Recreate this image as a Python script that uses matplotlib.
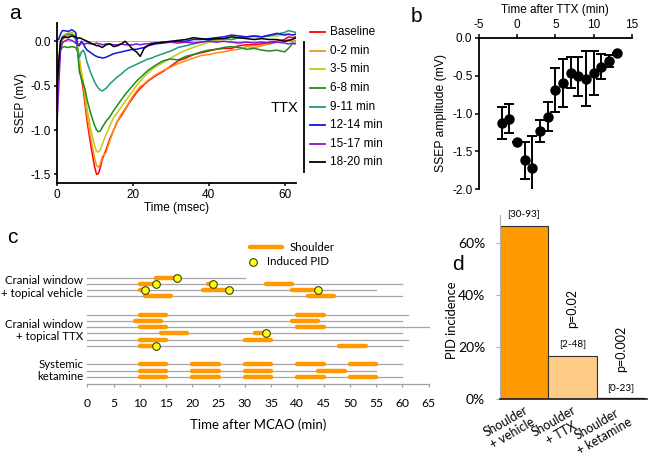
import matplotlib
matplotlib.use('Agg')
import matplotlib.pyplot as plt
from matplotlib.lines import Line2D
from matplotlib.ticker import FormatStrFormatter

plt.rcParams['axes.unicode_minus'] = False

ARIAL = 'Liberation Sans'
CAL = 'Lato'

# ---------------- data: panel a (SSEP traces) ----------------
ssep_time = [0, 0.5, 1, 1.5, 2, 3, 4, 5, 5.5, 6, 6.5, 7, 7.5, 8, 9, 10, 10.5, 11, 11.5, 12,
             13, 14, 15, 16, 17, 18, 19, 20, 21, 22, 23, 24, 25, 26, 28, 30, 32, 34, 36, 38,
             40, 42, 44, 46, 48, 50, 52, 54, 56, 58, 60, 61, 62, 63]
ssep_labels = ['Baseline', '0-2 min', '3-5 min', '6-8 min', '9-11 min', '12-14 min', '15-17 min', '18-20 min']
ssep_colors = ['#FF0000', '#FF8C1A', '#C8C814', '#1E8C1E', '#1E9B78', '#1414E6', '#8C14C8', '#000000']
baseline = [-0.62, -0.3, -0.05, 0.02, 0.04, 0.05, 0.07, 0.03, -0.08, -0.28, -0.42, -0.55, -0.72, -0.9, -1.18, -1.42, -1.5, -1.49, -1.42, -1.33,
            -1.22, -1.1, -1.0, -0.9, -0.84, -0.77, -0.7, -0.64, -0.58, -0.53, -0.49, -0.45, -0.42, -0.39, -0.34, -0.28, -0.22, -0.19, -0.15, -0.13,
            -0.11, -0.09, -0.08, -0.08, -0.05, -0.04, -0.04, -0.03, -0.01, 0.0, 0.02, 0.05, 0.04, 0.05]
min_0_2 = [-0.6, -0.28, -0.04, 0.03, 0.05, 0.06, 0.08, 0.04, -0.05, -0.22, -0.38, -0.5, -0.66, -0.84, -1.1, -1.32, -1.4, -1.42, -1.38, -1.3,
           -1.25, -1.12, -1.0, -0.9, -0.82, -0.76, -0.69, -0.62, -0.56, -0.51, -0.48, -0.44, -0.41, -0.38, -0.33, -0.29, -0.25, -0.22, -0.19, -0.16,
           -0.15, -0.13, -0.12, -0.1, -0.09, -0.06, -0.07, -0.05, -0.03, -0.01, 0.0, 0.02, 0.0, 0.01]
min_3_5 = [-0.6, -0.28, -0.03, 0.05, 0.08, 0.09, 0.1, 0.06, -0.05, -0.2, -0.34, -0.45, -0.6, -0.76, -1.0, -1.18, -1.24, -1.25, -1.22, -1.16,
           -1.05, -0.95, -0.86, -0.8, -0.74, -0.68, -0.62, -0.56, -0.5, -0.45, -0.4, -0.36, -0.32, -0.29, -0.24, -0.19, -0.14, -0.1, -0.07, -0.04,
           -0.01, 0.01, 0.02, 0.02, 0.04, 0.05, 0.05, 0.05, 0.06, 0.06, 0.08, 0.08, 0.07, 0.08]
min_6_8 = [-0.55, -0.3, -0.1, -0.07, -0.06, -0.07, -0.06, -0.07, -0.12, -0.35, -0.42, -0.48, -0.55, -0.66, -0.82, -0.95, -1.0, -1.02, -1.01, -0.97,
           -0.9, -0.85, -0.78, -0.72, -0.66, -0.6, -0.55, -0.5, -0.45, -0.41, -0.37, -0.33, -0.3, -0.27, -0.22, -0.2, -0.21, -0.17, -0.15, -0.12,
           -0.1, -0.09, -0.07, -0.06, -0.07, -0.09, -0.08, -0.1, -0.11, -0.1, -0.12, -0.08, -0.03, -0.02]
min_9_11 = [-0.6, -0.28, -0.02, 0.05, 0.06, 0.08, 0.08, 0.02, -0.1, -0.18, -0.12, -0.1, -0.15, -0.24, -0.36, -0.46, -0.5, -0.53, -0.55, -0.56,
            -0.53, -0.48, -0.44, -0.4, -0.37, -0.33, -0.3, -0.28, -0.26, -0.24, -0.22, -0.2, -0.19, -0.17, -0.14, -0.11, -0.07, -0.05, -0.03, -0.01,
            0.01, 0.02, 0.03, 0.02, 0.04, 0.05, 0.06, 0.05, 0.06, 0.08, 0.1, 0.12, 0.11, 0.1]
min_12_14 = [0.03, 0.02, 0.08, 0.12, 0.12, 0.11, 0.13, 0.1, -0.04, -0.05, 0.0, -0.03, -0.07, -0.1, -0.13, -0.16, -0.17, -0.18, -0.18, -0.19,
             -0.18, -0.16, -0.14, -0.13, -0.12, -0.11, -0.1, -0.09, -0.09, -0.08, -0.07, -0.05, -0.04, -0.03, -0.02, -0.01, 0.0, 0.0, 0.02, 0.02,
             0.03, 0.04, 0.05, 0.07, 0.06, 0.05, 0.06, 0.05, 0.07, 0.09, 0.07, 0.08, 0.07, 0.08]
min_15_17 = [-1.0, -0.55, -0.1, -0.02, 0.0, 0.02, 0.01, -0.02, -0.03, -0.03, -0.02, -0.03, -0.03, -0.02, -0.03, -0.03, -0.02, -0.03, -0.03, -0.04,
             -0.03, -0.03, -0.04, -0.04, -0.03, -0.04, -0.04, -0.04, -0.03, -0.04, -0.03, -0.03, -0.02, -0.02, -0.01, -0.01, -0.02, -0.01, -0.02, -0.01,
             0.0, -0.01, 0.0, -0.01, -0.02, -0.01, -0.02, -0.01, -0.02, -0.01, -0.02, -0.03, -0.02, -0.03]
min_18_20 = [-0.6, -0.25, 0.0, 0.04, 0.05, 0.04, 0.06, 0.05, 0.03, 0.04, 0.03, 0.02, 0.01, 0.0, -0.02, -0.04, -0.05, -0.05, -0.06, -0.07,
             -0.04, -0.03, -0.06, -0.05, -0.03, 0.0, -0.04, -0.09, -0.12, -0.17, -0.08, -0.05, -0.03, -0.02, -0.01, 0.0, 0.01, 0.02, 0.04, 0.03,
             0.02, 0.03, 0.03, 0.05, 0.04, 0.03, 0.02, 0.03, 0.02, 0.02, 0.0, 0.01, 0.02, 0.04]
ssep_values = [baseline, min_0_2, min_3_5, min_6_8, min_9_11, min_12_14, min_15_17, min_18_20]

# ---------------- data: panel b ----------------
b_time = [-2, -1, 0, 1, 2, 3, 4, 5, 6, 7, 8, 9, 10, 11, 12, 13]
b_amp = [-1.13, -1.07, -1.37, -1.62, -1.72, -1.23, -1.04, -0.69, -0.60, -0.46, -0.51, -0.54, -0.47, -0.38, -0.31, -0.20]
b_sem = [0.21, 0.19, 0.0, 0.25, 0.42, 0.15, 0.19, 0.29, 0.32, 0.20, 0.26, 0.36, 0.29, 0.17, 0.08, 0.0]

# ---------------- data: panel c ----------------
c_groups = ['Cranial window\n+ topical vehicle', 'Cranial window\n+ topical TTX', 'Systemic\nketamine']
vehicle_end = [30, 60, 55, 60]
vehicle_shoulders = [[(13, 17)], [(10, 13), (23, 24), (34, 39)], [(10, 11), (22, 27), (39, 44)], [(11, 16), (42, 47)]]
vehicle_pids = [[17], [13, 24], [11, 27, 44], []]
ttx_end = [61, 60, 65, 60, 61, 60]
ttx_shoulders = [[(10, 15), (40, 45)], [(9, 14), (39, 44)], [(10, 15), (40, 45)], [(14, 19), (32, 34)], [(10, 15), (30, 35)], [(10, 13), (48, 53)]]
ttx_pids = [[], [], [], [34], [], [13]]
ket_end = [60, 55, 60]
ket_shoulders = [[(10, 15), (20, 25), (30, 35), (40, 45), (50, 55)],
                 [(10, 15), (20, 25), (30, 35), (44, 49)],
                 [(10, 15), (20, 25), (30, 35), (40, 45), (50, 55)]]
ket_pids = [[], [], []]
c_xticks = list(range(0, 70, 5))

# ---------------- data: panel d ----------------
d_labels = ['Shoulder\n+ vehicle', 'Shoulder\n+ TTX', 'Shoulder\n+ ketamine']
d_values = [66.7, 16.7, 0.0]
d_ci = ['[30-93]', '[2-48]', '[0-23]']
d_p = ['', 'p=0.02', 'p=0.002']
d_colors = ['#FF9900', '#FFCC88', '#FFCC88']

# ---------------- figure ----------------
W, H = 652, 459
fig = plt.figure(figsize=(W / 100, H / 100), dpi=100)


def fx(x):
    return x / W


def fy(y):
    return 1 - y / H


def axes_px(l, t, r, b):
    return fig.add_axes([l / W, 1 - b / H, (r - l) / W, (b - t) / H])


# ----- panel a -----
ax = axes_px(56.7, 23, 296, 183)
ax.axhline(0, color='#b4b4b4', lw=0.7, zorder=0)
for vals, col in zip(ssep_values, ssep_colors):
    ax.plot(ssep_time, vals, color=col, lw=1.1)
ax.set_xlim(0, 63)
ax.set_ylim(-1.597, 0.206)
ax.set_xticks([0, 20, 40, 60])
ax.set_yticks([0, -0.5, -1.0, -1.5])
ax.yaxis.set_major_formatter(FormatStrFormatter('%.1f'))
for s in ['top', 'right']:
    ax.spines[s].set_visible(False)
for s in ['left', 'bottom']:
    ax.spines[s].set_linewidth(1.3)
ax.tick_params(length=2.5, width=1.1, pad=1.5, labelsize=8.5)
for t in ax.get_xticklabels() + ax.get_yticklabels():
    t.set_fontfamily(ARIAL)
ax.set_xlabel('Time (msec)', fontsize=8.5, fontfamily=ARIAL, labelpad=1)
ax.set_ylabel('SSEP (mV)', fontsize=8.5, fontfamily=ARIAL, labelpad=3)

for i, (lab, col) in enumerate(zip(ssep_labels, ssep_colors)):
    yy = 32.3 + i * 18.57
    fig.add_artist(Line2D([fx(310), fx(325)], [fy(yy), fy(yy)], color=col, lw=1.3))
    fig.text(fx(330), fy(yy), lab, ha='left', va='center', fontsize=8.5, fontfamily=ARIAL)
fig.add_artist(Line2D([fx(304), fx(304)], [fy(41.7), fy(171.7)], color='k', lw=1.3))
fig.text(fx(298), fy(108.3), 'TTX', ha='right', va='center', fontsize=10.5, fontfamily=ARIAL)

# ----- panel b -----
ax = axes_px(478.7, 37.7, 632, 189.3)
ax.errorbar(b_time, b_amp, yerr=b_sem, fmt='o', color='k', ms=6.5, capsize=3.5,
            elinewidth=1.4, capthick=1.4)
ax.set_xlim(-5, 15)
ax.set_ylim(-2, 0)
ax.set_xticks([-5, 0, 5, 10, 15])
ax.set_yticks([0, -0.5, -1.0, -1.5, -2.0])
ax.yaxis.set_major_formatter(FormatStrFormatter('%.1f'))
ax.xaxis.tick_top()
ax.xaxis.set_label_position('top')
for s in ['bottom', 'right']:
    ax.spines[s].set_visible(False)
for s in ['left', 'top']:
    ax.spines[s].set_linewidth(1.3)
ax.tick_params(length=3, width=1.1, pad=1.5, labelsize=8.5)
for t in ax.get_xticklabels() + ax.get_yticklabels():
    t.set_fontfamily(ARIAL)
ax.set_xlabel('Time after TTX (min)', fontsize=8.5, fontfamily=ARIAL, labelpad=5)
ax.set_ylabel('SSEP amplitude (mV)', fontsize=8.7, fontfamily=ARIAL, labelpad=4)

# ----- panel c -----
ax = axes_px(87.3, 240, 428.6, 384.3)
groups_data = [(vehicle_end, vehicle_shoulders, vehicle_pids),
               (ttx_end, ttx_shoulders, ttx_pids),
               (ket_end, ket_shoulders, ket_pids)]
row_y = []
y = 1.2
group_centers = []
for gi in range(len(groups_data) - 1, -1, -1):
    ends = groups_data[gi][0]
    ys = []
    for ri in range(len(ends)):
        ys.append(y + (len(ends) - 1 - ri))
    group_centers.insert(0, sum(ys) / len(ys))
    row_y.insert(0, ys)
    y += len(ends) + 2
for gi, (ends, shoulders, pids) in enumerate(groups_data):
    for ri in range(len(ends)):
        yy = row_y[gi][ri]
        ax.plot([0, ends[ri]], [yy, yy], color='#a6a6a6', lw=0.9, zorder=1, clip_on=False)
        for (s, e) in shoulders[ri]:
            ax.plot([s, e], [yy, yy], color='#FF9900', lw=3.2, solid_capstyle='round', zorder=2)
        for p in pids[ri]:
            ax.plot([p], [yy], 'o', ms=5.5, mfc='#FFFF1A', mec='#404000', mew=0.8, zorder=3)
    ax.text(-0.8, group_centers[gi], c_groups[gi], ha='right', va='center', fontsize=8.3,
            fontfamily=CAL, linespacing=1.15)
ax.set_xlim(0, 65)
ax.set_ylim(0, 23.27)
ax.set_xticks(c_xticks)
ax.set_yticks([])
for s in ['top', 'right', 'left']:
    ax.spines[s].set_visible(False)
ax.spines['bottom'].set_color('#a0a0a0')
ax.spines['bottom'].set_linewidth(0.9)
ax.tick_params(axis='x', length=2.5, width=0.9, color='#a0a0a0', pad=7.5, labelsize=8.7)
for t in ax.get_xticklabels():
    t.set_fontfamily(CAL)
ax.set_xlabel('Time after MCAO (min)', fontsize=9.5, fontfamily=CAL, labelpad=6.5)
# legend of panel c
ax.plot([31, 37], [22.1, 22.1], color='#FF9900', lw=3.2, solid_capstyle='round', clip_on=False)
ax.text(38.6, 22.1, 'Shoulder', ha='left', va='center', fontsize=8.3, fontfamily=CAL)
ax.plot([31.5], [19.8], 'o', ms=5.5, mfc='#FFFF1A', mec='#404000', mew=0.8, clip_on=False)
ax.text(34.2, 19.8, 'Induced PID', ha='left', va='center', fontsize=8.3, fontfamily=CAL)

# ----- panel d -----
ax = axes_px(499.7, 215, 646.7, 399.3)
xs = list(range(len(d_values)))
bars = ax.bar(xs, d_values, width=1.0, color=d_colors, edgecolor='#303030', linewidth=0.8)
bars[2].set_edgecolor('black')
bars[2].set_linewidth(1.6)
ax.set_xlim(-0.5, 2.537)
ax.set_ylim(0, 70.9)
for i, v in enumerate(d_values):
    ax.annotate(d_ci[i], (xs[i], v), xytext=(0, 8.5), textcoords='offset points',
                ha='center', va='center', fontsize=7.2, fontfamily=CAL)
    if d_p[i]:
        ax.annotate(d_p[i], (xs[i], v), xytext=(0, 20), textcoords='offset points',
                    ha='center', va='bottom', rotation=90, fontsize=9, fontfamily=CAL)
ax.set_yticks([0, 20, 40, 60])
ax.set_yticklabels(['0%', '20%', '40%', '60%'])
ax.set_xticks(xs)
ax.set_xticklabels(d_labels, rotation=30, ha='right', va='top', rotation_mode='anchor',
                   multialignment='center')
for s in ['top', 'right']:
    ax.spines[s].set_visible(False)
ax.spines['left'].set_color('#b0b0b0')
ax.spines['left'].set_linewidth(0.8)
ax.spines['bottom'].set_color('#1a1a1a')
ax.spines['bottom'].set_linewidth(1.2)
ax.tick_params(axis='y', length=3, width=0.8, color='#b0b0b0', pad=7.5, labelsize=10)
ax.tick_params(axis='x', length=0, pad=3, labelsize=9)
for t in ax.get_xticklabels() + ax.get_yticklabels():
    t.set_fontfamily(CAL)
ax.set_ylabel('PID incidence', fontsize=9.3, fontfamily=CAL)
ax.yaxis.set_label_coords(-0.285, 0.43)

# panel letters
fig.text(fx(9), fy(19), 'a', fontsize=15, fontfamily=ARIAL, va='baseline')
fig.text(fx(411), fy(21.5), 'b', fontsize=15, fontfamily=ARIAL, va='baseline')
fig.text(fx(7), fy(243), 'c', fontsize=15, fontfamily=ARIAL, va='baseline')
fig.text(fx(452), fy(270), 'd', fontsize=15, fontfamily=ARIAL, va='baseline')

fig.savefig('out.png', dpi=100)
